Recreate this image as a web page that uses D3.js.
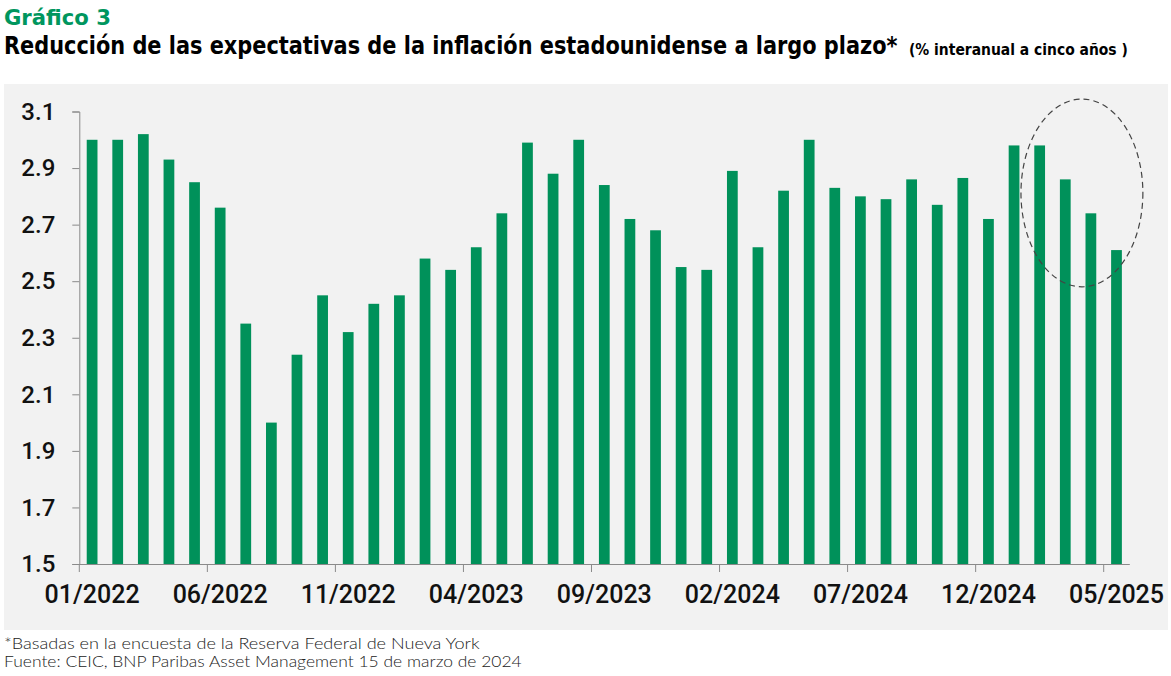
<!DOCTYPE html>
<html>
<head>
<meta charset="utf-8">
<script src="https://cdn.jsdelivr.net/npm/d3@7"></script>
<style>
  body { margin: 0; background: #fff; }
  svg { display: block; }
</style>
</head>
<body>
<div id="chart"></div>
<script>
// monthly survey, 01/2022 .. 05/2025
const months = [
  "01/2022", "02/2022", "03/2022", "04/2022", "05/2022", "06/2022", "07/2022", "08/2022", "09/2022", "10/2022",
  "11/2022", "12/2022", "01/2023", "02/2023", "03/2023", "04/2023", "05/2023", "06/2023", "07/2023", "08/2023",
  "09/2023", "10/2023", "11/2023", "12/2023", "01/2024", "02/2024", "03/2024", "04/2024", "05/2024", "06/2024",
  "07/2024", "08/2024", "09/2024", "10/2024", "11/2024", "12/2024", "01/2025", "02/2025", "03/2025", "04/2025",
  "05/2025"
];
const expectations = [
  3.00, 3.00, 3.02, 2.93, 2.85, 2.76, 2.35, 2.00, 2.24, 2.45,
  2.32, 2.42, 2.45, 2.58, 2.54, 2.62, 2.74, 2.99, 2.88, 3.00,
  2.84, 2.72, 2.68, 2.55, 2.54, 2.89, 2.62, 2.82, 3.00, 2.83,
  2.80, 2.79, 2.86, 2.77, 2.865, 2.72, 2.98, 2.98, 2.86, 2.74,
  2.61
];
const yTicks = [1.5, 1.7, 1.9, 2.1, 2.3, 2.5, 2.7, 2.9, 3.1];
const xTickLabels = months.filter((d, i) => i % 5 === 0);

(function () {
  const W = 1171, H = 676;
  const plotLeft = 79.3, plotRight = 1129.3, plotTop = 111.5, plotBottom = 564;
  const green = "#00915A";
  const axisColor = "#8a8a8a";
  const titleFont = "'DejaVu Sans Condensed', 'DejaVu Sans', sans-serif";
  const noteFont = "Lato, 'Open Sans', sans-serif";

  const svg = d3.select("#chart").append("svg")
    .attr("width", W)
    .attr("height", H);

  // squeeze a text horizontally so it spans `width` px from (x, y)
  function fitText(x0, y0, width, str, font, size, weight, color) {
    const g = svg.append("g");
    const t = g.append("text")
      .style("font-family", font)
      .style("font-stretch", "condensed")
      .style("font-weight", weight)
      .style("font-size", size + "px")
      .style("fill", color)
      .text(str);
    const natural = t.node().getComputedTextLength();
    g.attr("transform", `translate(${x0},${y0}) scale(${width / natural},1)`);
    return t;
  }

  // grey panel behind the chart
  svg.append("rect")
    .attr("x", 4).attr("y", 84)
    .attr("width", 1164).attr("height", 546)
    .attr("fill", "#f2f2f2");

  // Titles
  fitText(4, 24.5, 107, "Gráfico 3", titleFont, 22, "bold", "#00965E");
  fitText(4, 53.5, 894,
    "Reducción de las expectativas de la inflación estadounidense a largo plazo*",
    titleFont, 25, "bold", "#000");
  fitText(909, 55, 219, "(% interanual a cinco años )", titleFont, 16, "bold", "#000");

  // Scales
  const x = d3.scaleBand()
    .domain(months)
    .range([plotLeft, plotRight])
    .paddingInner(0.58)
    .paddingOuter(0.29);

  const y = d3.scaleLinear()
    .domain([1.5, 3.1])
    .range([plotBottom, plotTop]);

  // Bars
  svg.append("g")
    .selectAll("rect")
    .data(months)
    .join("rect")
    .attr("x", d => x(d))
    .attr("width", x.bandwidth())
    .attr("y", (d, i) => y(expectations[i]))
    .attr("height", (d, i) => y(1.5) - y(expectations[i]))
    .attr("fill", green);

  // Y axis
  const yAxis = svg.append("g")
    .attr("transform", `translate(${plotLeft},0)`)
    .call(d3.axisLeft(y).tickValues(yTicks).tickFormat(d3.format(".1f"))
      .tickSizeOuter(0).tickSize(7).tickPadding(17));
  yAxis.select(".domain").attr("stroke", axisColor);
  yAxis.selectAll(".tick line").attr("stroke", axisColor);
  yAxis.selectAll("text")
    .style("font-family", "Roboto, 'Liberation Sans', sans-serif")
    .style("font-weight", "500")
    .style("font-size", "24px")
    .style("fill", "#111");

  // X axis (labels centred on bars, ticks on boundaries every 5 months)
  const xAxis = svg.append("g")
    .attr("transform", `translate(0,${plotBottom})`)
    .call(d3.axisBottom(x).tickValues(xTickLabels).tickSize(0).tickPadding(21).tickSizeOuter(0));
  xAxis.select(".domain").attr("stroke", axisColor);
  xAxis.selectAll("text")
    .style("font-family", "Roboto, 'Liberation Sans', sans-serif")
    .style("font-weight", "500")
    .style("font-size", "25px")
    .style("fill", "#111");

  xAxis.selectAll(".bound")
    .data(xTickLabels)
    .join("line")
    .attr("class", "bound")
    .attr("x1", d => x(d) - x.step() * x.paddingInner() / 2)
    .attr("x2", d => x(d) - x.step() * x.paddingInner() / 2)
    .attr("y1", 0).attr("y2", 8)
    .attr("stroke", axisColor);

  // dashed ellipse highlighting the last months
  const last = months[38];
  svg.append("ellipse")
    .attr("cx", x(last) + x.bandwidth() / 2 + x.step() * 0.65)
    .attr("cy", y(2.812))
    .attr("rx", x.step() * 2.38)
    .attr("ry", (y(2.48) - y(3.144)) / 2)
    .attr("fill", "none")
    .attr("stroke", "#444")
    .attr("stroke-width", 1.2)
    .attr("stroke-dasharray", "6,4");

  // Footnotes
  fitText(4, 648.5, 476, "*Basadas en la encuesta de la Reserva Federal de Nueva York",
    noteFont, 16, "300", "#222");
  fitText(4, 667, 518, "Fuente: CEIC, BNP Paribas Asset Management 15 de marzo de 2024",
    noteFont, 16, "300", "#222");
})();
</script>
</body>
</html>
